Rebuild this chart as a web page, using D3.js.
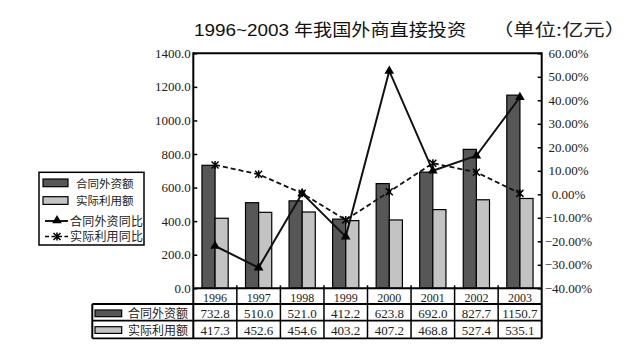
<!DOCTYPE html>
<html><head><meta charset="utf-8">
<script src="https://cdn.jsdelivr.net/npm/d3@7/dist/d3.min.js"></script>
<style>body{margin:0;background:#fff}svg{display:block}</style>
</head><body>
<svg id="c" width="636" height="350"></svg>
<script>
const years = ['1996','1997','1998','1999','2000','2001','2002','2003'];
const contract = [732.8,510.0,521.0,412.2,623.8,692.0,827.7,1150.7];
const actual = [417.3,452.6,454.6,403.2,407.2,468.8,527.4,535.1];
const contractGrowth = [-22.0,-31.2,0.4,-18.0,52.5,10.0,16.4,41.3];
const actualGrowth = [12.5,8.5,0.4,-10.9,1.1,13.2,9.4,0.4];
const leftTicks = [0,200,400,600,800,1000,1200,1400];
const rightTicks = [-40,-30,-20,-10,0,10,20,30,40,50,60];
const seriesNames = ['合同外资额','实际利用额','合同外资同比','实际利用同比'];

const svg = d3.select('#c');
const L = 193.3, R = 541.7, T = 53.3, B = 288.3;
const rowY = [304, 320.7, 338.3];
const tableLeft = 92.3;
const DARK = '#575757', LIGHT = '#c3c3c3';
const serif = '"Liberation Serif", "DejaVu Serif", serif';
const cjk = '"Noto Sans CJK SC", "Noto Sans", sans-serif';

const x = d3.scaleBand().domain(years).range([L, R]).padding(0);
const xs = d3.scaleBand().domain(['a','b']).range([0, x.bandwidth()]).paddingInner(0).paddingOuter(0.66);
const y = d3.scaleLinear().domain([0,1400]).range([B, T]);
const y2 = d3.scaleLinear().domain([-40,60]).range([B, T]);

// Title
svg.append('text').attr('x',194).attr('y',35.5).attr('font-family','"Liberation Sans", Arial, sans-serif')
  .attr('font-size',17).attr('textLength',95).attr('lengthAdjust','spacingAndGlyphs').attr('fill','#111').text('1996~2003');
svg.append('text').attr('x',294).attr('y',35.5).attr('font-family',cjk)
  .attr('font-size',17).attr('textLength',172).attr('lengthAdjust','spacingAndGlyphs').attr('fill','#111').text('年我国外商直接投资');
svg.append('text').attr('x',492).attr('y',35.5).attr('font-family',cjk)
  .attr('font-size',17).attr('textLength',134).attr('lengthAdjust','spacingAndGlyphs').attr('fill','#222').text('（单位:亿元）');

// Bars
const g = svg.append('g');
years.forEach((yr,i)=>{
  g.append('rect').attr('x',x(yr)+xs('a')).attr('y',y(contract[i])).attr('width',xs.bandwidth()).attr('height',B-y(contract[i]))
    .attr('fill',DARK).attr('stroke','#000').attr('stroke-width',1.2);
  g.append('rect').attr('x',x(yr)+xs('b')).attr('y',y(actual[i])).attr('width',xs.bandwidth()).attr('height',B-y(actual[i]))
    .attr('fill',LIGHT).attr('stroke','#000').attr('stroke-width',1.2);
});

// Lines
const cx = yr => x(yr) + x.bandwidth()/2;
const line = d3.line().x(d=>cx(d[0])).y(d=>y2(d[1]));
svg.append('path').attr('d', line(years.map((yr,i)=>[yr, contractGrowth[i]])))
  .attr('fill','none').attr('stroke','#111').attr('stroke-width',2);
svg.append('path').attr('d', line(years.map((yr,i)=>[yr, actualGrowth[i]])))
  .attr('fill','none').attr('stroke','#111').attr('stroke-width',1.8).attr('stroke-dasharray','5,3');

const tri = d3.symbol().type(d3.symbolTriangle).size(40);
function star(sel, px, py, s){
  sel.append('path').attr('d',`M${px-s},${py-s}L${px+s},${py+s}M${px+s},${py-s}L${px-s},${py+s}M${px},${py-s-0.5}L${px},${py+s+0.5}`)
    .attr('stroke','#000').attr('stroke-width',1.5).attr('fill','none');
}
years.forEach((yr,i)=>{
  svg.append('path').attr('d',tri()).attr('transform',`translate(${cx(yr)},${y2(contractGrowth[i])})`).attr('fill','#000');
  star(svg, cx(yr), y2(actualGrowth[i]), 3.5);
});

// Axes frame
svg.append('line').attr('x1',L).attr('x2',R).attr('y1',T).attr('y2',T).attr('stroke','#000').attr('stroke-width',2);
svg.append('line').attr('x1',L).attr('x2',L).attr('y1',T-1).attr('y2',rowY[2]).attr('stroke','#000').attr('stroke-width',2);
svg.append('line').attr('x1',R).attr('x2',R).attr('y1',T-1).attr('y2',rowY[2]).attr('stroke','#000').attr('stroke-width',2);

// Left axis
const la = svg.append('g').attr('transform',`translate(${L},0)`)
  .call(d3.axisRight(y).tickValues(leftTicks).tickSize(4).tickFormat(''));
la.select('.domain').remove();
la.selectAll('line').attr('stroke','#000').attr('stroke-width',1.5);
leftTicks.forEach(t=>{
  svg.append('text').attr('x',190.7).attr('y',y(t)+4.5).attr('text-anchor','end')
    .attr('font-family',serif).attr('font-size',13).attr('fill','#222').text(d3.format('.1f')(t));
});
// Right axis
const ra = svg.append('g').attr('transform',`translate(${R},0)`)
  .call(d3.axisLeft(y2).tickValues(rightTicks).tickSize(4).tickFormat(''));
ra.select('.domain').remove();
ra.selectAll('line').attr('stroke','#000').attr('stroke-width',1.5);
rightTicks.forEach(t=>{
  svg.append('text').attr('x',568.5).attr('y',y2(t)+4.5).attr('text-anchor','middle')
    .attr('font-family',serif).attr('font-size',13).attr('fill','#222').text(d3.format('.2f')(t).replace('-','−')+'%');
});

// Table
const tg = svg.append('g');
tg.append('line').attr('x1',L).attr('x2',R).attr('y1',B).attr('y2',B).attr('stroke','#000').attr('stroke-width',2);
rowY.forEach(ry=>{
  tg.append('line').attr('x1',tableLeft).attr('x2',R).attr('y1',ry).attr('y2',ry).attr('stroke','#000').attr('stroke-width',1.8);
});
tg.append('line').attr('x1',tableLeft).attr('x2',tableLeft).attr('y1',rowY[0]).attr('y2',rowY[2]).attr('stroke','#000').attr('stroke-width',2);
years.forEach((yr,i)=>{
  if(i>0) tg.append('line').attr('x1',x(yr)).attr('x2',x(yr)).attr('y1',B-3).attr('y2',rowY[2]).attr('stroke','#000').attr('stroke-width',1.5);
  tg.append('text').attr('x',cx(yr)).attr('y',302).attr('text-anchor','middle').attr('font-family',serif).attr('font-size',12).attr('fill','#222').text(yr);
  tg.append('text').attr('x',cx(yr)).attr('y',318).attr('text-anchor','middle').attr('font-family',serif).attr('font-size',13).attr('fill','#222').text(d3.format('.1f')(contract[i]));
  tg.append('text').attr('x',cx(yr)).attr('y',335).attr('text-anchor','middle').attr('font-family',serif).attr('font-size',13).attr('fill','#222').text(d3.format('.1f')(actual[i]));
});
// table legend keys
tg.append('rect').attr('x',95).attr('y',310).attr('width',26.7).attr('height',6.7).attr('fill',DARK).attr('stroke','#000').attr('stroke-width',1.2);
tg.append('rect').attr('x',95).attr('y',326.7).attr('width',26.7).attr('height',6.7).attr('fill',LIGHT).attr('stroke','#000').attr('stroke-width',1.2);
tg.append('text').attr('x',128).attr('y',317.5).attr('font-family',cjk).attr('font-size',12).attr('textLength',60).attr('fill','#222').text(seriesNames[0]);
tg.append('text').attr('x',128).attr('y',334.5).attr('font-family',cjk).attr('font-size',12).attr('textLength',60).attr('fill','#222').text(seriesNames[1]);

// Legend box
const lg = svg.append('g');
lg.append('rect').attr('x',39).attr('y',172.3).attr('width',105).attr('height',72.7).attr('fill','#fff').attr('stroke','#000').attr('stroke-width',1.5);
lg.append('rect').attr('x',43).attr('y',179).attr('width',25).attr('height',7.7).attr('fill',DARK).attr('stroke','#000').attr('stroke-width',1.2);
lg.append('rect').attr('x',43).attr('y',196.7).attr('width',25).attr('height',7.7).attr('fill',LIGHT).attr('stroke','#000').attr('stroke-width',1.2);
lg.append('text').attr('x',76).attr('y',187.5).attr('font-family',cjk).attr('font-size',11.5).attr('fill','#222').text(seriesNames[0]);
lg.append('text').attr('x',76).attr('y',205).attr('font-family',cjk).attr('font-size',11.5).attr('fill','#222').text(seriesNames[1]);
lg.append('line').attr('x1',45).attr('x2',68).attr('y1',221).attr('y2',221).attr('stroke','#000').attr('stroke-width',1.8);
lg.append('path').attr('d',tri()).attr('transform','translate(57,220.5)').attr('fill','#000');
lg.append('text').attr('x',70).attr('y',225.5).attr('font-family',cjk).attr('font-size',12).attr('textLength',73).attr('fill','#222').text(seriesNames[2]);
lg.append('line').attr('x1',45).attr('x2',68).attr('y1',236.5).attr('y2',236.5).attr('stroke','#000').attr('stroke-width',1.6).attr('stroke-dasharray','4,2.5');
star(lg, 57, 236.5, 3.5);
lg.append('text').attr('x',70).attr('y',241).attr('font-family',cjk).attr('font-size',12).attr('textLength',73).attr('fill','#222').text(seriesNames[3]);
</script>
</body></html>
